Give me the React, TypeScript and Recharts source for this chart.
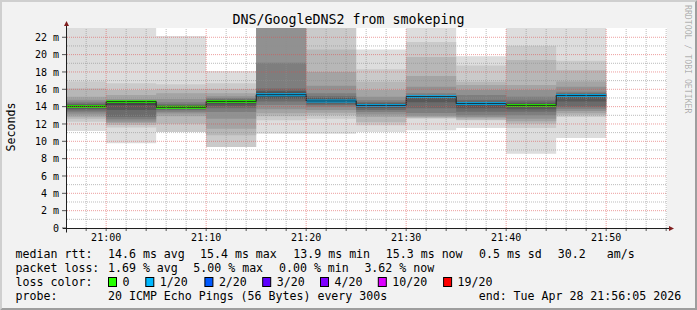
import React from "react";
import {
  ComposedChart,
  Area,
  Line,
  XAxis,
  YAxis,
  CartesianGrid,
  ReferenceLine,
} from "recharts";

// ---------------- data ----------------
const title = "DNS/GoogleDNS2 from smokeping";
const viewStart = "20:56:05";
const viewEnd = "21:56:05";
const stepSeconds = 300;
const columnStarts = ["20:55", "21:00", "21:05", "21:10", "21:15", "21:20", "21:25", "21:30", "21:35", "21:40", "21:45"];

// 20 sorted ping rtts (ms) per 5-minute step
const pings2055 = [11.19, 12.26, 12.6, 12.84, 13.1, 13.35, 13.55, 13.75, 13.9, 14.0, 14.08, 14.15, 14.25, 14.35, 14.55, 14.8, 15.15, 16.1, 16.9, 24.0];
const pings2100 = [9.77, 11.6, 11.88, 12.1, 12.26, 12.55, 12.84, 13.6, 14.2, 14.5, 14.6, 14.62, 14.65, 14.7, 14.75, 14.88, 15.34, 15.92, 16.69, 24.0];
const pings2105 = [11.07, 11.07, 12.03, 12.9, 13.2, 13.4, 13.6, 13.75, 13.85, 13.92, 14.0, 14.05, 14.15, 14.27, 14.5, 14.88, 15.54, 16.0, 16.57, 22.15];
const pings2110 = [9.34, 9.34, 10.69, 11.46, 12.61, 13.38, 13.8, 14.1, 14.35, 14.55, 14.65, 14.7, 14.75, 14.85, 15.0, 15.2, 15.54, 16.04, 16.69, 18.11];
const pings2115 = [10.88, 12.43, 12.9, 13.23, 13.7, 14.19, 14.6, 14.9, 15.1, 15.25, 15.45, 15.6, 15.8, 16.1, 19.07, 24.0, 25.0, 26.0, 27.0, 28.0];
const pings2120 = [10.88, 12.61, 13.0, 13.3, 13.6, 14.0, 14.2, 14.35, 14.5, 14.6, 14.72, 14.85, 15.0, 15.2, 15.54, 16.4, 18.0, 20.6, 25.0, 26.0];
const pings2125 = [11.07, 11.84, 12.2, 12.8, 13.1, 13.38, 13.6, 13.85, 14.0, 14.1, 14.18, 14.25, 14.35, 14.5, 14.75, 15.15, 15.92, 16.88, 18.3, 20.6];
const pings2130 = [11.27, 12.61, 12.7, 12.8, 12.95, 13.27, 13.8, 14.5, 15.0, 15.12, 15.17, 15.2, 15.25, 15.35, 15.54, 16.3, 17.54, 19.73, 21.46, 24.0];
const pings2135 = [11.54, 12.42, 12.5, 12.65, 12.8, 13.0, 13.4, 13.8, 14.15, 14.3, 14.38, 14.45, 14.55, 14.77, 15.34, 15.92, 16.5, 16.88, 18.75, 19.8];
const pings2140 = [8.57, 11.54, 12.03, 12.3, 12.61, 13.0, 13.42, 13.7, 13.95, 14.1, 14.2, 14.3, 14.45, 14.7, 15.15, 15.92, 16.5, 19.38, 21.03, 24.0];
const pings2145 = [10.38, 12.8, 13.0, 13.23, 13.5, 13.75, 14.0, 14.6, 15.1, 15.26, 15.33, 15.38, 15.45, 15.55, 15.73, 16.3, 16.9, 18.2, 19.3, 24.0];

const medianMs = [14.04, 14.57, 13.93, 14.61, 15.37, 14.65, 14.15, 15.15, 14.34, 14.15, 15.3];
const lossPings = [0, 0, 0, 0, 1, 1, 1, 1, 1, 0, 1];

const lossLegendCounts = [0, 1, 2, 3, 4, 10, 19];
const lossLegendLabels = ["0", "1/20", "2/20", "3/20", "4/20", "10/20", "19/20"];
const lossLegendColors = ["#26ff00", "#00b8ff", "#0059ff", "#5e00ff", "#7e00ff", "#dd00ff", "#ff0000"];

const yMaxMs = 23.07;
const yLabelTicks = [0, 2, 4, 6, 8, 10, 12, 14, 16, 18, 20, 22];
const yMinorTicks = [1, 3, 5, 7, 9, 11, 13, 15, 17, 19, 21];
const xLabelTicks = ["21:00", "21:10", "21:20", "21:30", "21:40", "21:50"];
const xMinorStepSeconds = 120;

const legendRtt = [
  ["median rtt:", 15.6],
  ["14.6 ms avg", 108],
  ["15.4 ms max", 200],
  ["13.9 ms min", 293.3],
  ["15.3 ms now", 385.8],
  ["0.5 ms sd", 479],
  ["30.2", 557.8],
  ["am/s", 606.7],
];
const legendLoss = [
  ["packet loss:", 15.6],
  ["1.69 % avg", 108],
  ["5.00 % max", 193.3],
  ["0.00 % min", 279],
  ["3.62 % now", 364.4],
];
const legendBoxX = [108, 145.3, 204.4, 262.2, 320, 377.8, 443.1];
const legendProbe = [
  ["probe:", 15.6],
  ["20 ICMP Echo Pings (56 Bytes) every 300s", 108],
  ["end: Tue Apr 28 21:56:05 2026", 478.7],
];

// ---------------- layout ----------------
const W = 697;
const H = 310;
const PLOT_LEFT = 67;
const PLOT_TOP = 28;
const PLOT_W = 600;
const PLOT_H = 200;
const FONT = "'DejaVu Sans Mono', monospace";
const PINGS = 20;

const toSec = (s: string) => {
  const [h, m, sec] = s.split(":").map(Number);
  return h * 3600 + m * 60 + (sec || 0);
};
const fmtTime = (t: number) => {
  const h = Math.floor(t / 3600);
  const m = Math.floor((t % 3600) / 60);
  return `${String(h).padStart(2, "0")}:${String(m).padStart(2, "0")}`;
};

const columns = [pings2055, pings2100, pings2105, pings2110, pings2115, pings2120, pings2125, pings2130, pings2135, pings2140, pings2145];
const HALF = PINGS / 2;
const bandIds = Array.from({ length: HALF }, (_, i) => i + 1);
const bandGray = (b: number) => {
  const c = Math.floor((190 / HALF) * (HALF - b)) + 50;
  const h = c.toString(16).padStart(2, "0");
  return `#${h}${h}${h}`;
};
const colorIndexFor = (loss: number) => {
  let idx = 0;
  lossLegendCounts.forEach((c, i) => {
    if (loss >= c) idx = i;
  });
  return idx;
};
const medHalf = 1.4 * (yMaxMs / PLOT_H);

const rows: any[] = [];
columns.forEach((p, k) => {
  const t0 = toSec(columnStarts[k]);
  const t1 = t0 + stepSeconds;
  const m = medianMs[k];
  const row: any = { median: m };
  bandIds.forEach((b) => {
    const lo = p[b - 1];
    const hi = p[PINGS - b];
    row[`band${b}`] = lo == null || hi == null ? null : [lo, hi];
  });
  const ci = colorIndexFor(lossPings[k]);
  lossLegendColors.forEach((_, i) => {
    row[`med${i}`] = i === ci ? [m - medHalf, m + medHalf] : null;
  });
  rows.push({ t: t0, ...row }, { t: t1, ...row });
});

const x0 = toSec(viewStart);
const x1 = toSec(viewEnd);
const xTicks: number[] = [];
for (let t = Math.ceil(x0 / xMinorStepSeconds) * xMinorStepSeconds; t <= x1; t += xMinorStepSeconds) xTicks.push(t);
const xMajor = xLabelTicks.map(toSec);
const xMinor = xTicks.filter((t) => !xMajor.includes(t));

const gridMinor = { stroke: "#8f8f8f", strokeOpacity: 0.6, strokeDasharray: "1 1" };
const gridMajor = { stroke: "#de4f4f", strokeOpacity: 0.55, strokeDasharray: "1 1" };

export default function App() {
  const ax = PLOT_LEFT - 0.5;
  const ay = PLOT_TOP + PLOT_H + 0.5;
  return (
    <div style={{ position: "absolute", left: 0, top: 0, width: W, height: H, background: "#f2f2f2" }}>
      <ComposedChart
        width={W}
        height={H}
        data={rows}
        margin={{ top: PLOT_TOP, right: W - PLOT_LEFT - PLOT_W, bottom: H - PLOT_TOP - PLOT_H - 20, left: PLOT_LEFT - 40 }}
      >
        <CartesianGrid stroke="none" fill="#ffffff" />
        <XAxis
          dataKey="t"
          type="number"
          domain={[x0, x1]}
          allowDataOverflow
          ticks={xTicks}
          interval={0}
          height={20}
          axisLine={false}
          tickSize={3}
          tickMargin={3}
          tickLine={{ stroke: "#555" }}
          tickFormatter={(t: number) => (xMajor.includes(t) ? fmtTime(t) : "")}
          tick={{ fill: "#000", fontFamily: FONT, fontSize: 10 }}
        />
        <YAxis
          type="number"
          domain={[0, yMaxMs]}
          allowDataOverflow
          ticks={yLabelTicks}
          interval={0}
          width={40}
          axisLine={false}
          tickSize={5}
          tickMargin={3}
          tickLine={{ stroke: "#555" }}
          tickFormatter={(v: number) => (v === 0 ? "0" : `${v} m`)}
          tick={{ fill: "#000", fontFamily: FONT, fontSize: 10 }}
        />
        {bandIds.map((b) => (
          <Area
            key={`band${b}`}
            dataKey={`band${b}`}
            type="linear"
            stroke="none"
            fill={bandGray(b)}
            fillOpacity={1}
            isAnimationActive={false}
            activeDot={false}
            dot={false}
          />
        ))}
        <Line dataKey="median" type="linear" stroke="#202020" strokeWidth={1} dot={false} activeDot={false} isAnimationActive={false} />
        {lossLegendColors.map((c, i) => (
          <Area
            key={`med${i}`}
            dataKey={`med${i}`}
            type="linear"
            stroke="none"
            fill={c}
            fillOpacity={1}
            isAnimationActive={false}
            activeDot={false}
            dot={false}
          />
        ))}
        {yMinorTicks.map((v) => (
          <ReferenceLine key={`hy${v}`} y={v} {...gridMinor} />
        ))}
        {yLabelTicks.filter((v) => v > 0).map((v) => (
          <ReferenceLine key={`my${v}`} y={v} {...gridMajor} />
        ))}
        {xMinor.map((t) => (
          <ReferenceLine key={`hx${t}`} x={t} {...gridMinor} />
        ))}
        {xMajor.map((t) => (
          <ReferenceLine key={`mx${t}`} x={t} {...gridMajor} />
        ))}
      </ComposedChart>
      <svg width={W} height={H} style={{ position: "absolute", left: 0, top: 0, pointerEvents: "none" }}>
        {/* 3D frame */}
        <polygon points={`0,0 ${W},0 ${W - 2},2 2,2 2,${H - 2} 0,${H}`} fill="#cfcfcf" />
        <polygon points={`${W},0 ${W},${H} 0,${H} 2,${H - 2} ${W - 2},${H - 2} ${W - 2},2`} fill="#9e9e9e" />
        {/* axes */}
        <line x1={ax} y1={ay + 4} x2={ax} y2={PLOT_TOP - 3} stroke="#1f1f1f" strokeWidth={1} />
        <line x1={PLOT_LEFT - 4} y1={ay} x2={PLOT_LEFT + PLOT_W + 3} y2={ay} stroke="#1f1f1f" strokeWidth={1} />
        <polygon points={`${ax - 2.5},${PLOT_TOP - 2} ${ax + 2.5},${PLOT_TOP - 2} ${ax},${PLOT_TOP - 7}`} fill="#801f1f" />
        <polygon points={`${PLOT_LEFT + PLOT_W + 2},${ay - 2.5} ${PLOT_LEFT + PLOT_W + 2},${ay + 2.5} ${PLOT_LEFT + PLOT_W + 7},${ay}`} fill="#801f1f" />
        {/* title */}
        <text x={348.5} y={24} textAnchor="middle" fontFamily={FONT} fontSize={13.3} fill="#000">
          {title}
        </text>
        {/* axis label */}
        <text transform="translate(15,127) rotate(-90)" textAnchor="middle" fontFamily={FONT} fontSize={11.6} fill="#000">
          Seconds
        </text>
        {/* watermark */}
        <text transform="translate(684.5,5) rotate(90)" fontFamily={FONT} fontSize={8.2} fill="#000" fillOpacity={0.3}>
          RRDTOOL / TOBI OETIKER
        </text>
        {/* legend */}
        {legendRtt.map(([s, x]) => (
          <text key={`r${s}`} x={x as number} y={258} fontFamily={FONT} fontSize={11.6} fill="#000" style={{ whiteSpace: "pre" }}>
            {s}
          </text>
        ))}
        {legendLoss.map(([s, x]) => (
          <text key={`l${s}`} x={x as number} y={272} fontFamily={FONT} fontSize={11.6} fill="#000">
            {s}
          </text>
        ))}
        <text x={15.6} y={286} fontFamily={FONT} fontSize={11.6} fill="#000">
          loss color:
        </text>
        {lossLegendColors.map((c, i) => (
          <g key={`lc${i}`}>
            <rect x={legendBoxX[i] + 0.5} y={277.5} width={8} height={9} fill={c} stroke="#000" strokeWidth={1} />
            <text x={legendBoxX[i] + 14.5} y={286} fontFamily={FONT} fontSize={11.6} fill="#000">
              {lossLegendLabels[i]}
            </text>
          </g>
        ))}
        {legendProbe.map(([s, x]) => (
          <text key={`p${s}`} x={x as number} y={300} fontFamily={FONT} fontSize={11.6} fill="#000">
            {s}
          </text>
        ))}
      </svg>
    </div>
  );
}
